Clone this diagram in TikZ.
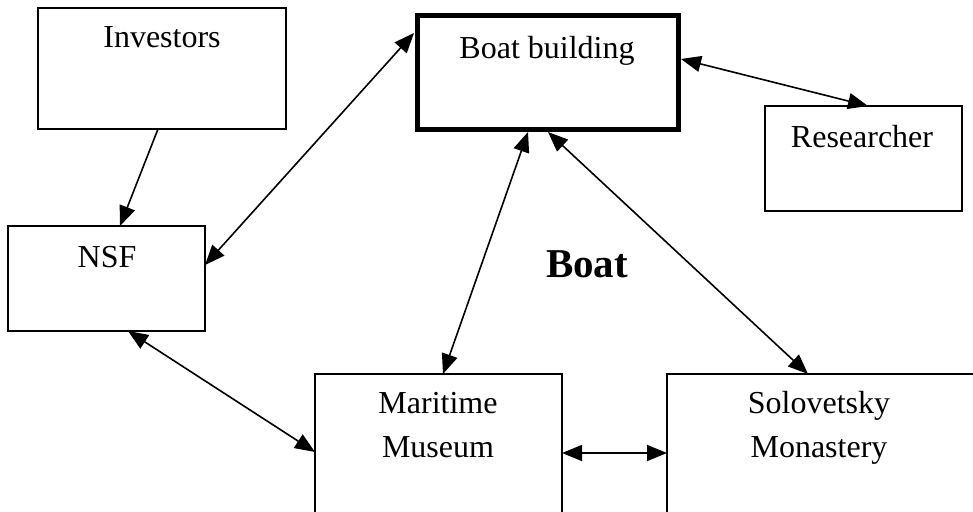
\documentclass[tikz,border=0pt]{standalone}
\usepackage{fontspec}
\setmainfont{Liberation Serif}
\usetikzlibrary{arrows.meta}
\begin{document}
\begin{tikzpicture}[x=1pt,y=-1pt,
  box/.style={draw, line width=1.6pt, inner sep=0pt, outer sep=0pt, fill=white},
  thickbox/.style={box, line width=5pt},
  lbl/.style={anchor=base, inner sep=0pt, font=\fontsize{32}{42}\selectfont, align=center},
  one/.style={line width=1.6pt, -{Triangle[length=20pt,width=16pt]}},
  two/.style={line width=1.6pt, {Triangle[length=20pt,width=16pt]}-{Triangle[length=20pt,width=16pt]}}]
\useasboundingbox (0,0) rectangle (973,511);
\clip (0,0) rectangle (973,511);
\fill[white] (0,0) rectangle (973,511);
% boxes
\node[box, minimum width=248pt, minimum height=121pt] (inv) at (162,68.5) {};
\node[thickbox, minimum width=261pt, minimum height=113pt] (bb) at (547.5,72.5) {};
\node[box, minimum width=197pt, minimum height=105pt] (res) at (863.5,158.5) {};
\node[box, minimum width=197pt, minimum height=105pt] (nsf) at (106.5,278.5) {};
\node[box, minimum width=247pt, minimum height=226pt] (mar) at (438.5,487) {};
\node[box, minimum width=333pt, minimum height=226pt] (sol) at (833.5,487) {};
% labels
\node[lbl] (tinv) at (162,48) {Investors};
\node[lbl] (tbb) at (547,59) {Boat building};
\node[lbl] (tres) at (862,147) {Researcher};
\node[lbl] (tnsf) at (107,267) {NSF};
\node[lbl] (tmar1) at (438,413) {Maritime};
\node[lbl] (tmar2) at (438,457) {Museum};
\node[lbl] (tsol1) at (819,413) {Solovetsky};
\node[lbl] (tsol2) at (819,457) {Monastery};
\node[anchor=base, inner sep=0pt, font=\bfseries\fontsize{41}{49}\selectfont] (tboat) at (587,277) {Boat};
% connectors
\draw[one] ([xshift=-4pt]inv.south) -- ([xshift=13.5pt]nsf.north);
\draw[two] ([yshift=13.5pt]nsf.east) -- ([xshift=-3pt,yshift=39.5pt]bb.west);
\draw[two] ([xshift=3pt,yshift=13.5pt]bb.east) -- ([xshift=4.5pt]res.north);
\draw[two] ([xshift=-19.5pt,yshift=-3pt]bb.south) -- ([xshift=4.5pt]mar.north);
\draw[two] ([xshift=0.5pt,yshift=-3pt]bb.south) -- ([xshift=141pt]sol.north west);
\draw[two] ([xshift=21.5pt]nsf.south) -- ([yshift=-78pt]mar.north west);
\draw[two] ([yshift=-79pt]mar.north east) -- ([yshift=-79pt]sol.north west);
\end{tikzpicture}
\end{document}
